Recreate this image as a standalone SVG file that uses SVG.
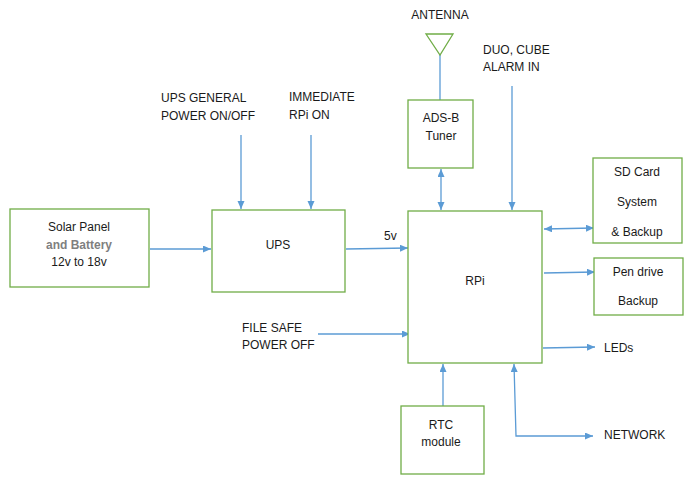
<svg xmlns="http://www.w3.org/2000/svg" width="693" height="484" viewBox="0 0 693 484">
<style>
.box{fill:#fff;stroke:#70AD47;stroke-width:1.3}
.ln{fill:none;stroke:#5B9BD5;stroke-width:1.3}
.t{font-family:"Liberation Sans",Arial,sans-serif;font-size:12px;fill:#1a1a1a}
.c{text-anchor:middle}
</style>
<defs>
<marker id="ah" markerUnits="userSpaceOnUse" markerWidth="9" markerHeight="8" refX="8" refY="3.5" orient="auto-start-reverse">
<path d="M0,0 L8,3.5 L0,7 z" fill="#5B9BD5"/>
</marker>
</defs>
<rect width="693" height="484" fill="#fff"/>
<g id="connectors">
<line class="ln" x1="150" y1="249" x2="211" y2="249" marker-end="url(#ah)"/>
<line class="ln" x1="241" y1="135" x2="241" y2="209" marker-end="url(#ah)"/>
<line class="ln" x1="311" y1="135" x2="311" y2="209" marker-end="url(#ah)"/>
<line class="ln" x1="346" y1="249" x2="408" y2="248" marker-end="url(#ah)"/>
<line class="ln" x1="441" y1="169" x2="441" y2="210" marker-start="url(#ah)" marker-end="url(#ah)"/>
<line class="ln" x1="512" y1="86" x2="512" y2="210" marker-end="url(#ah)"/>
<line class="ln" x1="544" y1="229" x2="594" y2="228" marker-start="url(#ah)" marker-end="url(#ah)"/>
<line class="ln" x1="544" y1="273" x2="595" y2="272" marker-end="url(#ah)"/>
<line class="ln" x1="543" y1="348" x2="595" y2="347" marker-end="url(#ah)"/>
<line class="ln" x1="318" y1="334" x2="410" y2="334" marker-end="url(#ah)"/>
<line class="ln" x1="443" y1="406" x2="443" y2="364" marker-end="url(#ah)"/>
<polyline class="ln" points="514,364 516,436 593,436" marker-start="url(#ah)" marker-end="url(#ah)"/>
<line class="ln" x1="440" y1="55" x2="440" y2="100"/>
</g>
<g id="solar">
<rect class="box" x="10" y="209" width="139" height="78"/>
<text class="t c" x="79" y="231">Solar Panel</text>
<text class="t c" x="79" y="249" style="fill:#7f7f7f;font-weight:bold">and Battery</text>
<text class="t c" x="79" y="266">12v to 18v</text>
</g>
<g id="ups">
<rect class="box" x="212" y="210" width="133" height="82"/>
<text class="t c" x="278" y="249">UPS</text>
</g>
<g id="ups-general">
<text class="t" x="161" y="102">UPS GENERAL</text>
<text class="t" x="161" y="120">POWER ON/OFF</text>
</g>
<g id="immediate">
<text class="t" x="289" y="101">IMMEDIATE</text>
<text class="t" x="289" y="119">RPi ON</text>
</g>
<g id="label-5v">
<text class="t" x="384" y="240">5v</text>
</g>
<g id="rpi">
<rect class="box" x="408" y="211" width="134" height="152"/>
<text class="t c" x="475" y="285">RPi</text>
</g>
<g id="adsb">
<rect class="box" x="408" y="100" width="65" height="68"/>
<text class="t c" x="441" y="122">ADS-B</text>
<text class="t c" x="441" y="140">Tuner</text>
</g>
<g id="antenna">
<polygon points="426,34 453,34 440,55" fill="none" stroke="#70AD47" stroke-width="1.3"/>
<text class="t c" x="440" y="19">ANTENNA</text>
</g>
<g id="duo">
<text class="t" x="483" y="54">DUO, CUBE</text>
<text class="t" x="483" y="71">ALARM IN</text>
</g>
<g id="sdcard">
<rect class="box" x="593" y="158" width="89" height="85"/>
<text class="t c" x="637" y="176">SD Card</text>
<text class="t c" x="637" y="206">System</text>
<text class="t c" x="637" y="236">&amp; Backup</text>
</g>
<g id="pendrive">
<rect class="box" x="594" y="258" width="89" height="57"/>
<text class="t c" x="638" y="276">Pen drive</text>
<text class="t c" x="638" y="305">Backup</text>
</g>
<g id="leds">
<text class="t" x="604" y="352">LEDs</text>
</g>
<g id="filesafe">
<text class="t" x="242" y="332">FILE SAFE</text>
<text class="t" x="242" y="349">POWER OFF</text>
</g>
<g id="rtc">
<rect class="box" x="401" y="406" width="83" height="68"/>
<text class="t c" x="441" y="429">RTC</text>
<text class="t c" x="441" y="446">module</text>
</g>
<g id="network">
<text class="t" x="604" y="439">NETWORK</text>
</g>
</svg>
